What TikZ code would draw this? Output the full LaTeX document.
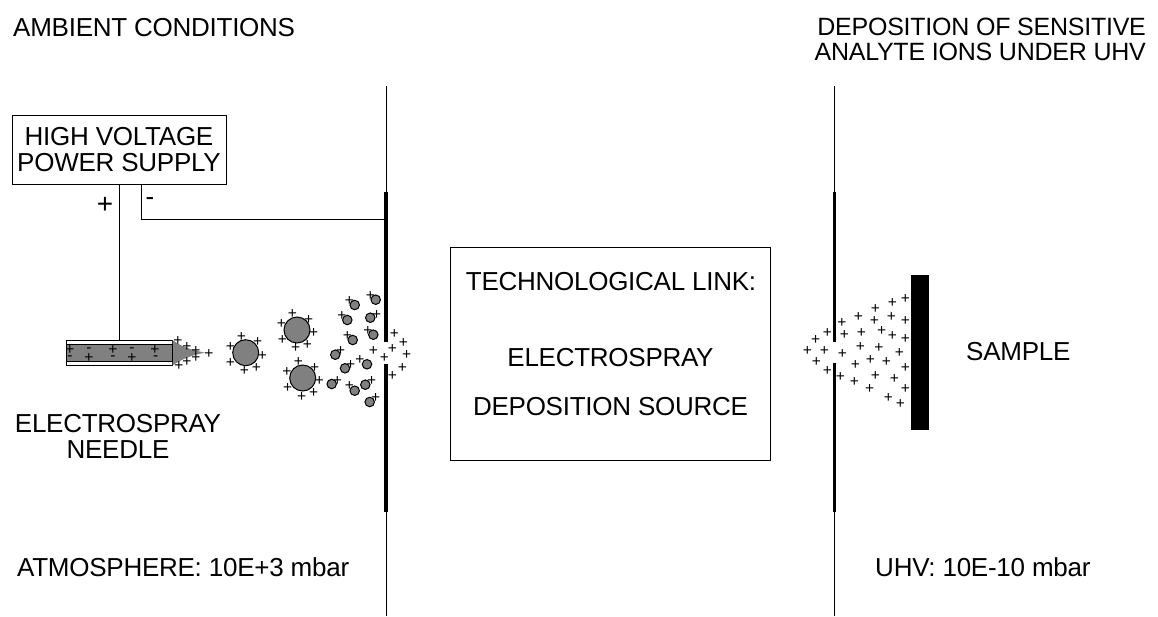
\documentclass[tikz,border=0pt]{standalone}
\usepackage{fontspec}
\setmainfont{Liberation Sans}
\newfontfamily\tight[LetterSpace=-1]{Liberation Sans}
\definecolor{dropgray}{gray}{0.5}
\tikzset{
  lbl/.style={inner sep=0pt,font=\fontsize{26}{26}\selectfont\tight,align=center},
  sign/.style={inner sep=0pt,font=\fontsize{15.5}{15.5}\selectfont},
  framebox/.style={draw=black,line width=0.9pt,fill=white,inner sep=0pt},
  thin line/.style={draw=black,line width=0.9pt},
  wall/.style={line width=3.4pt,black},
  drop/.style={draw=black,line width=1pt,fill=dropgray,circle,inner sep=0pt},
}
\newcounter{sg}
\newcommand{\signs}[2]{\foreach \a/\b in {#2}{\stepcounter{sg}\node[sign,name=s\arabic{sg}] at (\a,\b) {#1};}}
\begin{document}
\begin{tikzpicture}[x=1pt,y=-1pt]
\useasboundingbox (0,0) rectangle (1158,616);
% walls
\coordinate (wa) at (386,86); \coordinate (wb) at (386,616);
\coordinate (wc) at (834.5,86); \coordinate (wd) at (834.5,616);
\draw[thin line] (wa) -- (wb);
\draw[thin line] (wc) -- (wd);
\coordinate (a1) at (386,192); \coordinate (a2) at (386,342); \coordinate (a3) at (386,364); \coordinate (a4) at (386,512);
\coordinate (b1) at (834.5,192); \coordinate (b2) at (834.5,342); \coordinate (b3) at (834.5,363); \coordinate (b4) at (834.5,512);
\fill[white] (381,342) rectangle (391,364);
\fill[white] (829,342) rectangle (840,363);
\draw[wall] (a1) -- (a2); \draw[wall] (a3) -- (a4);
\draw[wall] (b1) -- (b2); \draw[wall] (b3) -- (b4);
% boxes
\node[framebox,minimum width=214pt,minimum height=69pt,lbl,draw] (hv) at (119,149.5) {HIGH VOLTAGE\\POWER SUPPLY};
\node[framebox,minimum width=320pt,minimum height=213pt] (link) at (610,353.5) {};
\node[lbl] (l1) at (611,282) {TECHNOLOGICAL LINK:};
\node[lbl] (l2) at (610.5,358) {ELECTROSPRAY};
\node[lbl] (l3) at (610.5,407) {DEPOSITION SOURCE};
% needle
\node[draw=black,line width=1pt,fill=white,minimum width=106.5pt,minimum height=25.5pt,inner sep=0pt] (needle) at (119.3,352.8) {};
\fill[dropgray] (172.5,340) .. controls (182,347) and (192,350) .. (205,352.7) .. controls (192,355) and (182,359) .. (172.5,365.5) -- cycle;
\draw[line width=1pt,fill=dropgray] (66,344.3) rectangle (172.7,361);
% connectors
\coordinate (nplus) at (119,184);
\draw[thin line] (nplus) -- (needle.north -| nplus);
\coordinate (mstart) at (141,184);
\draw[thin line] (mstart) -- (141,219) -- (a1 |- 0,219);
\node[inner sep=0pt,font=\fontsize{28}{28}\selectfont] (plab) at (105,205) {+};
\node[inner sep=0pt,font=\fontsize{26}{26}\selectfont] (mlab) at (150,202) {-};
% needle signs
\signs{+}{70/350.3,113/350,155/350,89/358,132/358,178/341,187/347,196/351,209/354,196/358,187/362,179/366}
\signs{-}{89/350,132/350,70/358.5,113/358.5,155.7/358.5}
% big droplets
\node[drop,minimum size=26pt] (d1) at (245.7,352.7) {};
\node[drop,minimum size=26pt] (d2) at (297,330) {};
\node[drop,minimum size=26pt] (d3) at (302.7,378) {};
\signs{+}{241.3/336.7,257.7/342.3,262.3/355.7,256.3/368,244.3/371.3,230.3/362.7,230.3/347.3,
 292.3/314.3,308.7/320,313.7/332.7,307.3/345.3,295.7/348.3,282.3/340,281.3/324.3,
 298.3/362.3,314.7/368,319.3/381,313.7/393.3,301.7/397,287.7/388.3,287/372.3}
% small droplets
\foreach \n/\a/\b in {1/354.7/305,2/375.7/299.7,3/347.3/320,4/370.3/317.7,5/352.7/340,6/373.3/334.7,7/335.3/354.7,8/367/364.3,9/345/368.3,10/331.7/384,11/365.3/384.7,12/354.7/390.7,13/369.7/402}
 {\node[drop,minimum size=9.5pt] (sd\n) at (\a,\b) {};}
\signs{+}{349.3/301,370.3/295.7,342/316,376.7/315,347.3/336,368/330.7,340.7/350.7,360/360,350.7/365.3,337.3/380.7,371.7/380.7,349.3/385.7,375.7/398,
 394.3/334.3,403.3/343.3,373.3/351.3,392.3/349.3,406.7/355.3,384.3/358,402.3/368,392.3/376}
% right plume
\signs{+}{905.3/299.3,892.3/303,875.3/309,858.3/317,842/323.3,891.3/317.3,874.3/321.3,905.3/321,827.3/333,844.3/335,861.3/333,881.7/331.3,892.3/336,905.3/339.3,815.7/340,807.3/351,824.3/351.3,842.3/354,860.3/347,879/347.7,899.3/353,816.3/362.3,827.3/371,855.3/365,870.3/360,886.3/362,905.3/368,840.3/377,854.3/382,875.3/376,894.3/379.3,869.7/389,905.3/389,888.3/398,900.3/404.3}
% sample
\fill[black] (911,275) rectangle (929,430);
% labels
\node[lbl,anchor=west] (t1) at (13,28) {AMBIENT CONDITIONS};
\node[lbl,anchor=east,align=right,font=\fontsize{25}{25}\selectfont\tight] (t2) at (1146,39.5) {DEPOSITION OF SENSITIVE\\ANALYTE IONS UNDER UHV};
\node[lbl] (t3) at (118,436) {ELECTROSPRAY\\NEEDLE};
\node[lbl,anchor=west] (t4) at (966,352) {SAMPLE};
\node[lbl,anchor=west] (t5) at (17,567) {ATMOSPHERE: 10E+3 mbar};
\node[lbl,anchor=west] (t6) at (875,567) {UHV: 10E-10 mbar};
\end{tikzpicture}
\end{document}
